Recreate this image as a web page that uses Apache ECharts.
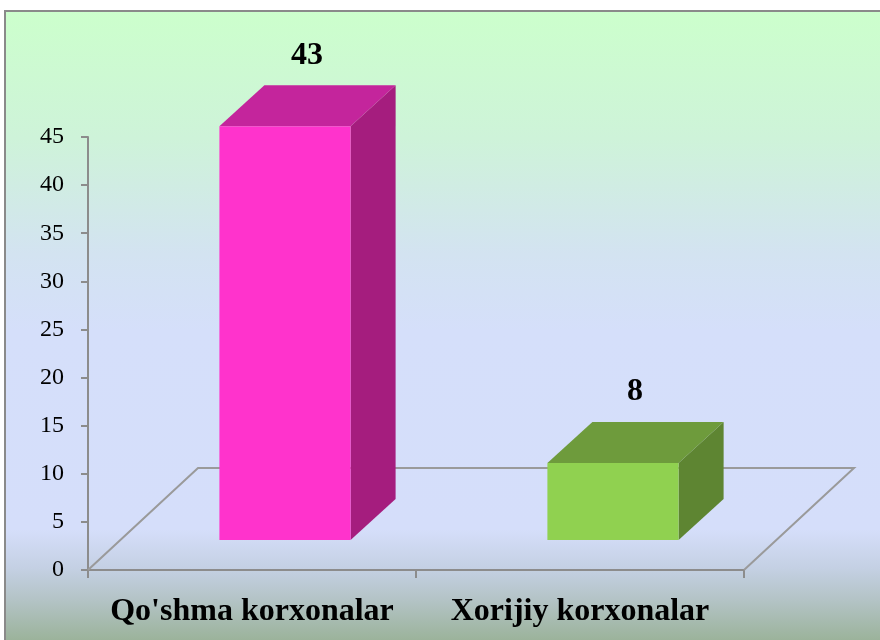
<!DOCTYPE html>
<html>
<head>
<meta charset="utf-8">
<script src="https://cdn.jsdelivr.net/npm/echarts@6/dist/echarts.min.js"></script>
<style>
  html, body { margin: 0; padding: 0; background: #fff; }
  #chart { width: 880px; height: 640px; }
</style>
</head>
<body>
<div id="chart"></div>
<script>
// data
const categories = ["Qo'shma korxonalar", 'Xorijiy korxonalar'];
const values = [43, 8];
const yTicks = [0, 5, 10, 15, 20, 25, 30, 35, 40, 45];

// face colours: front / top / side
const palette = [
  { front: '#FF33CC', top: '#C4259C', side: '#A51D7E' },
  { front: '#90D150', top: '#6E9B3C', side: '#5E8532' }
];

// 3d look (px)
const barOff = [33, -30];   // where the bar front sits in the floor depth
const barDepth = [45, -41]; // bar depth
const floorDepth = [110, -102];
const serif = '"Liberation Serif", "Times New Roman", serif';

const chart = echarts.init(document.getElementById('chart'));

function renderFloor(params, api) {
  const cs = params.coordSys;
  const x0 = cs.x, x1 = cs.x + cs.width, y = cs.y + cs.height;
  return {
    type: 'polyline',
    shape: {
      points: [
        [x0, y],
        [x0 + floorDepth[0], y + floorDepth[1]],
        [x1 + floorDepth[0], y + floorDepth[1]],
        [x1, y]
      ]
    },
    style: { stroke: '#9a9a9a', lineWidth: 2, fill: null }
  };
}

function renderBar(params, api) {
  const idx = api.value(0);
  const base = api.coord([idx, 0]);
  const top = api.coord([idx, api.value(1)]);
  const band = api.size([1, 0])[0];
  const w = band * 0.4;
  const c = palette[params.dataIndex % palette.length];
  const x0 = base[0] - w / 2 + barOff[0];
  const x1 = x0 + w;
  const yb = base[1] + barOff[1];
  const yt = top[1] + barOff[1];
  const dx = barDepth[0], dy = barDepth[1];
  return {
    type: 'group',
    children: [
      {
        type: 'polygon',
        shape: { points: [[x1, yt], [x1 + dx, yt + dy], [x1 + dx, yb + dy], [x1, yb]] },
        style: { fill: c.side }
      },
      {
        type: 'polygon',
        shape: { points: [[x0, yt], [x0 + dx, yt + dy], [x1 + dx, yt + dy], [x1, yt]] },
        style: { fill: c.top }
      },
      {
        type: 'rect',
        shape: { x: x0, y: yt, width: w, height: yb - yt },
        style: { fill: c.front }
      },
      {
        type: 'text',
        x: (x0 + x1) / 2 + 22,
        y: yt + dy - 30,
        style: {
          text: String(api.value(1)),
          fill: '#000',
          font: 'bold 32px ' + serif,
          align: 'center',
          verticalAlign: 'middle'
        }
      }
    ]
  };
}

const option = {
  animation: false,
  graphic: [
    {
      type: 'rect',
      z: -10,
      shape: { x: 5, y: 11, width: 880, height: 640 },
      style: {
        stroke: '#8a8a8a',
        lineWidth: 2,
        fill: new echarts.graphic.LinearGradient(0, 0, 0, 1, [
          { offset: 0, color: '#CCFFCC' },
          { offset: 0.2, color: '#CEF3D9' },
          { offset: 0.38, color: '#D3E3F1' },
          { offset: 0.5, color: '#D5DFFA' },
          { offset: 0.81, color: '#D5DEFA' },
          { offset: 0.87, color: '#C4D0E3' },
          { offset: 0.92, color: '#B3C3C5' },
          { offset: 1, color: '#94AE8E' }
        ])
      }
    }
  ],
  grid: { left: 88, right: 136, top: 137, bottom: 70 },
  xAxis: {
    type: 'category',
    data: categories,
    axisLine: { lineStyle: { color: '#8c8c8c', width: 2 } },
    axisTick: {
      show: true,
      interval: 0,
      alignWithLabel: false,
      length: 8,
      lineStyle: { color: '#8c8c8c', width: 2 }
    },
    axisLabel: {
      interval: 0,
      hideOverlap: false,
      color: '#000',
      fontFamily: serif,
      fontWeight: 'bold',
      fontSize: 32,
      margin: 26
    }
  },
  yAxis: {
    type: 'value',
    min: 0,
    max: 45,
    interval: 5,
    splitLine: { show: false },
    axisLine: { show: true, lineStyle: { color: '#8c8c8c', width: 2 } },
    axisTick: { show: true, length: 7, lineStyle: { color: '#8c8c8c', width: 2 } },
    axisLabel: {
      color: '#000',
      fontFamily: serif,
      fontSize: 24,
      margin: 24,
      formatter: v => (yTicks.indexOf(v) >= 0 ? String(v) : '')
    }
  },
  series: [
    {
      type: 'custom',
      renderItem: renderFloor,
      data: [[0, 0]],
      z: 1,
      silent: true
    },
    {
      type: 'custom',
      renderItem: renderBar,
      data: values.map((v, i) => [i, v]),
      z: 3
    }
  ]
};

chart.setOption(option);
</script>
</body>
</html>
